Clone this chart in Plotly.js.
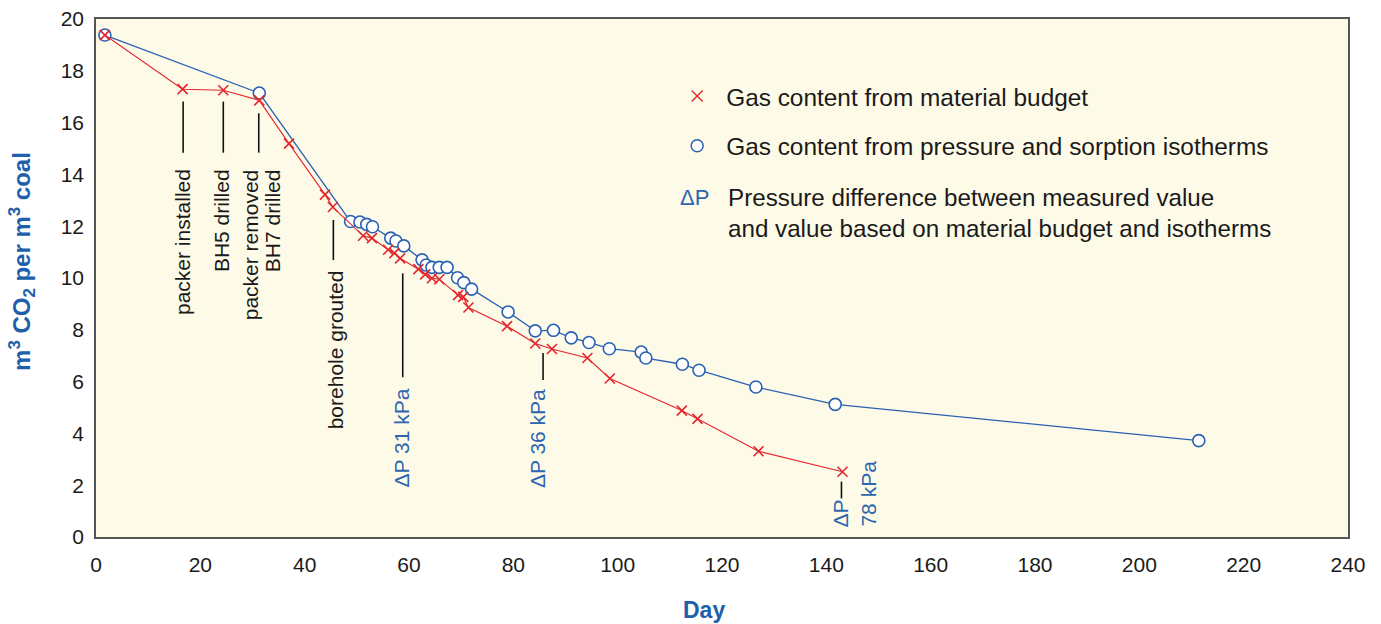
<!DOCTYPE html>
<html>
<head>
<meta charset="utf-8">
<script src="https://cdn.plot.ly/plotly-3.0.1.min.js"></script>
<style>html,body{margin:0;padding:0;background:#fff;}#chart{width:1381px;height:624px;}</style>
</head>
<body>
<div id="chart"></div>
<script>
// Gas content from material budget (red crosses)
const budgetDay = [1.7, 16.6, 24.4, 31.3, 37.0, 43.9, 45.4, 51.2, 52.9, 56.0, 57.2, 58.3, 61.8, 63.1, 64.4, 65.8, 69.4, 70.4, 71.4, 78.8, 84.2, 87.4, 94.2, 98.5, 112.3, 115.3, 127.0, 143.1];
const budgetGas = [19.38, 17.29, 17.25, 16.86, 15.19, 13.22, 12.74, 11.63, 11.54, 11.09, 10.96, 10.76, 10.34, 10.14, 9.99, 9.95, 9.34, 9.27, 8.86, 8.14, 7.47, 7.26, 6.91, 6.12, 4.88, 4.56, 3.31, 2.52];
// Gas content from pressure and sorption isotherms (blue circles)
const isoDay = [1.7, 31.3, 48.8, 50.6, 51.9, 53.0, 56.5, 57.5, 59.0, 62.5, 63.3, 64.4, 65.8, 67.3, 69.3, 70.5, 72.0, 79.0, 84.2, 87.7, 91.1, 94.5, 98.4, 104.5, 105.4, 112.4, 115.6, 126.5, 141.7, 211.4];
const isoGas = [19.38, 17.14, 12.18, 12.16, 12.07, 11.98, 11.54, 11.43, 11.24, 10.70, 10.50, 10.41, 10.41, 10.41, 10.01, 9.82, 9.57, 8.69, 7.96, 7.98, 7.69, 7.51, 7.27, 7.14, 6.91, 6.67, 6.44, 5.79, 5.12, 3.72];
// Event annotations: day, label, leader line top/bottom (gas value), text top
const eventDay = [16.7, 24.4, 31.2, 45.5];
const eventText = ['packer installed', 'BH5 drilled', 'packer removed', 'borehole grouted'];
const eventLineTop = [16.81, 16.81, 16.36, 12.24];
const eventLineBottom = [14.84, 14.84, 14.84, 10.69];
const dpDay = [58.8, 85.7, 142.9];
const dpText = ['ΔP 31 kPa', 'ΔP 36 kPa'];
const dpLineTop = [10.18, 7.10, 2.14];
const dpLineBottom = [6.17, 6.06, 1.49];
const xTicks = [0, 20, 40, 60, 80, 100, 120, 140, 160, 180, 200, 220, 240];
const yTicks = [0, 2, 4, 6, 8, 10, 12, 14, 16, 18, 20];

const RED = '#e3262d', BLUE = '#2a62b2', DPBLUE = '#2d66b0', TXT = '#1a1a1a', TITLEBLUE = '#2060aa';
const FONT = 'Liberation Sans, Arial, Helvetica, sans-serif';

const traces = [
  {x: isoDay, y: isoGas, mode: 'lines+markers', showlegend: false,
   line: {color: BLUE, width: 1.3},
   marker: {symbol: 'circle', size: 12, color: '#ffffff', line: {color: BLUE, width: 1.6}}},
  {x: budgetDay, y: budgetGas, mode: 'lines+markers', showlegend: false,
   line: {color: RED, width: 1.1},
   marker: {symbol: 'x-thin-open', size: 10, color: RED, line: {color: RED, width: 1.6}}},
  {x: [null], y: [null], mode: 'markers', name: 'Gas content from material budget', legend: 'legend',
   marker: {symbol: 'x-thin-open', size: 11, color: RED, line: {color: RED, width: 1.4}}},
  {x: [null], y: [null], mode: 'markers', name: 'Gas content from pressure and sorption isotherms', legend: 'legend2',
   marker: {symbol: 'circle', size: 12, color: '#ffffff', line: {color: BLUE, width: 1.5}}}
];

const shapes = [];
const annotations = [];
eventDay.forEach((d, i) => {
  shapes.push({type: 'line', xref: 'x', yref: 'y', x0: d, x1: d, y0: eventLineBottom[i], y1: eventLineTop[i],
    line: {color: '#111', width: 1.6}});
});
dpDay.forEach((d, i) => {
  shapes.push({type: 'line', xref: 'x', yref: 'y', x0: d, x1: d, y0: dpLineBottom[i], y1: dpLineTop[i],
    line: {color: '#111', width: 1.6}});
});
const evTextX = [16.7, 24.1, 29.5, 45.8];
const evTextTop = [14.29, 14.29, 14.29, 10.39];
eventText.forEach((t, i) => {
  annotations.push({x: evTextX[i], y: evTextTop[i], xref: 'x', yref: 'y', text: t, showarrow: false,
    textangle: -90, xanchor: 'center', yanchor: 'top', font: {family: FONT, size: 21, color: TXT}});
});
annotations.push({x: 33.9, y: 14.29, xref: 'x', yref: 'y', text: 'BH7 drilled', showarrow: false,
  textangle: -90, xanchor: 'center', yanchor: 'top', font: {family: FONT, size: 21, color: TXT}});
const dpTextX = [58.5, 84.5];
dpText.forEach((t, i) => {
  annotations.push({x: dpTextX[i], y: 5.80, xref: 'x', yref: 'y', text: t, showarrow: false,
    textangle: -90, xanchor: 'center', yanchor: 'top', font: {family: FONT, size: 21, color: DPBLUE}});
});
annotations.push({x: 142.9, y: 0.31, xref: 'x', yref: 'y', text: 'ΔP', showarrow: false,
  textangle: -90, xanchor: 'center', yanchor: 'bottom', font: {family: FONT, size: 21, color: DPBLUE}});
annotations.push({x: 148.1, y: 0.31, xref: 'x', yref: 'y', text: '78 kPa', showarrow: false,
  textangle: -90, xanchor: 'center', yanchor: 'bottom', font: {family: FONT, size: 21, color: DPBLUE}});
// Legend third entry
annotations.push({x: 0.478, y: 0.656, xref: 'paper', yref: 'paper', text: 'ΔP', showarrow: false,
  xanchor: 'center', yanchor: 'middle', font: {family: FONT, size: 22, color: DPBLUE}});
annotations.push({x: 0.503, y: 0.685, xref: 'paper', yref: 'paper', showarrow: false, align: 'left',
  text: 'Pressure difference between measured value<br>and value based on material budget and isotherms',
  xanchor: 'left', yanchor: 'top', font: {family: FONT, size: 24.2, color: TXT}});
// Axis titles
annotations.push({x: -0.0591, y: 0.531, xref: 'paper', yref: 'paper', showarrow: false, textangle: -90,
  text: '<b>m<sup>3</sup> CO<sub>2</sub> per m<sup>3</sup> coal</b>', xanchor: 'center', yanchor: 'middle',
  font: {family: FONT, size: 24, color: TITLEBLUE}});
annotations.push({x: 0.4856, y: -0.141, xref: 'paper', yref: 'paper', showarrow: false,
  text: '<b>Day</b>', xanchor: 'center', yanchor: 'middle',
  font: {family: FONT, size: 23, color: TITLEBLUE}});

const legendBase = {bgcolor: 'rgba(0,0,0,0)', borderwidth: 0, xanchor: 'left', yanchor: 'middle',
  font: {family: FONT, size: 24.4, color: TXT}, itemwidth: 48};

const layout = {
  width: 1381, height: 624,
  margin: {l: 96, r: 33, t: 19, b: 87},
  paper_bgcolor: '#ffffff', plot_bgcolor: '#fefae8',
  font: {family: FONT, size: 21, color: TXT},
  xaxis: {range: [0, 240], tickvals: xTicks, showgrid: false, zeroline: false, showline: true, mirror: true,
    linecolor: '#555', linewidth: 1.5, ticks: '', ticklabelstandoff: 8,
    tickfont: {family: FONT, size: 21, color: TXT}},
  yaxis: {range: [0, 20], tickvals: yTicks, showgrid: false, zeroline: false, showline: true, mirror: true,
    linecolor: '#555', linewidth: 1.5, ticks: '', ticklabelstandoff: 6,
    tickfont: {family: FONT, size: 21, color: TXT}},
  legend: Object.assign({}, legendBase, {x: 0.457, y: 0.851}),
  legend2: Object.assign({}, legendBase, {x: 0.457, y: 0.755}),
  shapes: shapes,
  annotations: annotations
};

Plotly.newPlot('chart', traces, layout, {displayModeBar: false, responsive: false});
</script>
</body>
</html>
